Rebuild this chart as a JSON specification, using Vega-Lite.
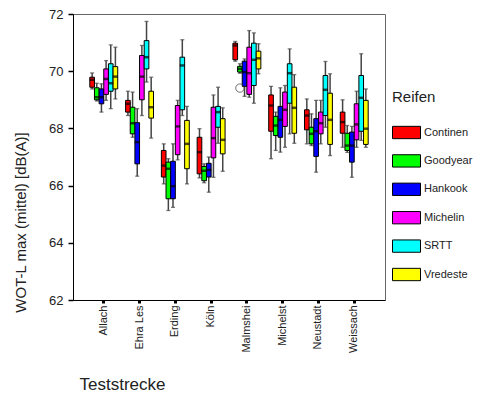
{
  "$schema": "https://vega.github.io/schema/vega-lite/v6.json",
  "width": 312,
  "height": 286,
  "autosize": {"type": "none"},
  "padding": {"left": 73, "top": 14, "right": 106, "bottom": 94},
  "background": "white",
  "config": {
    "font": "Liberation Sans",
    "view": {"stroke": "#666", "strokeWidth": 1},
    "axis": {"grid": false, "domainColor": "black", "tickColor": "black", "labelColor": "#222", "titleColor": "#222", "titleFontWeight": "normal"}
  },
  "datasets": {
    "boxes": [
      {"track": "Allach", "tire": "Contin", "lo": 69.38, "q1": 69.44, "med": 69.70, "q3": 69.79, "hi": 69.94},
      {"track": "Allach", "tire": "Goodyear", "lo": 68.96, "q1": 69.0, "med": 69.09, "q3": 69.42, "hi": 69.58},
      {"track": "Allach", "tire": "Hankook", "lo": 68.57, "q1": 68.86, "med": 69.09, "q3": 69.38, "hi": 69.56},
      {"track": "Allach", "tire": "Michelin", "lo": 68.98, "q1": 69.19, "med": 69.73, "q3": 70.08, "hi": 70.37},
      {"track": "Allach", "tire": "SRTT", "lo": 68.69, "q1": 69.30, "med": 69.58, "q3": 70.26, "hi": 70.92},
      {"track": "Allach", "tire": "Vredeste", "lo": 69.03, "q1": 69.38, "med": 69.81, "q3": 70.16, "hi": 70.84},
      {"track": "Ehra Les", "tire": "Contin", "lo": 68.45, "q1": 68.57, "med": 68.86, "q3": 68.98, "hi": 69.30},
      {"track": "Ehra Les", "tire": "Goodyear", "lo": 67.69, "q1": 67.81, "med": 68.18, "q3": 68.74, "hi": 69.27},
      {"track": "Ehra Les", "tire": "Hankook", "lo": 66.33, "q1": 66.76, "med": 67.52, "q3": 68.20, "hi": 68.69},
      {"track": "Ehra Les", "tire": "Michelin", "lo": 68.45, "q1": 69.0, "med": 69.81, "q3": 70.55, "hi": 70.90},
      {"track": "Ehra Les", "tire": "SRTT", "lo": 69.62, "q1": 70.08, "med": 70.49, "q3": 71.07, "hi": 71.74},
      {"track": "Ehra Les", "tire": "Vredeste", "lo": 67.66, "q1": 68.36, "med": 68.74, "q3": 69.30, "hi": 69.79},
      {"track": "Erding", "tire": "Contin", "lo": 66.06, "q1": 66.30, "med": 66.70, "q3": 67.23, "hi": 67.46},
      {"track": "Erding", "tire": "Goodyear", "lo": 65.13, "q1": 65.54, "med": 66.59, "q3": 66.82, "hi": 66.94},
      {"track": "Erding", "tire": "Hankook", "lo": 65.24, "q1": 65.54, "med": 65.98, "q3": 66.85, "hi": 67.46},
      {"track": "Erding", "tire": "Michelin", "lo": 66.90, "q1": 67.08, "med": 68.07, "q3": 68.80, "hi": 68.98},
      {"track": "Erding", "tire": "SRTT", "lo": 68.45, "q1": 68.65, "med": 70.20, "q3": 70.49, "hi": 71.10},
      {"track": "Erding", "tire": "Vredeste", "lo": 66.06, "q1": 66.59, "med": 67.46, "q3": 68.28, "hi": 68.77},
      {"track": "Köln", "tire": "Contin", "lo": 66.27, "q1": 66.41, "med": 67.17, "q3": 67.69, "hi": 67.99},
      {"track": "Köln", "tire": "Goodyear", "lo": 66.10, "q1": 66.17, "med": 66.52, "q3": 66.67, "hi": 66.76},
      {"track": "Köln", "tire": "Hankook", "lo": 65.77, "q1": 66.30, "med": 66.55, "q3": 66.78, "hi": 67.0},
      {"track": "Köln", "tire": "Michelin", "lo": 66.29, "q1": 66.97, "med": 67.66, "q3": 68.74, "hi": 69.17},
      {"track": "Köln", "tire": "SRTT", "lo": 67.48, "q1": 68.04, "med": 68.57, "q3": 68.77, "hi": 69.44},
      {"track": "Köln", "tire": "Vredeste", "lo": 66.50, "q1": 67.11, "med": 67.60, "q3": 68.34, "hi": 68.72},
      {"track": "Malmshei", "tire": "Contin", "lo": 70.35, "q1": 70.40, "med": 70.90, "q3": 70.98, "hi": 71.04},
      {"track": "Malmshei", "tire": "Goodyear", "lo": 69.93, "q1": 69.97, "med": 70.08, "q3": 70.17, "hi": 70.26},
      {"track": "Malmshei", "tire": "Hankook", "lo": 69.12, "q1": 69.47, "med": 69.97, "q3": 70.35, "hi": 70.43},
      {"track": "Malmshei", "tire": "Michelin", "lo": 69.09, "q1": 69.19, "med": 69.93, "q3": 70.84, "hi": 71.42},
      {"track": "Malmshei", "tire": "SRTT", "lo": 68.88, "q1": 69.50, "med": 70.40, "q3": 70.98, "hi": 71.34},
      {"track": "Malmshei", "tire": "Vredeste", "lo": 69.91, "q1": 70.08, "med": 70.45, "q3": 70.70, "hi": 70.96},
      {"track": "Michelst", "tire": "Contin", "lo": 66.94, "q1": 67.90, "med": 68.80, "q3": 69.17, "hi": 69.47},
      {"track": "Michelst", "tire": "Goodyear", "lo": 67.23, "q1": 67.75, "med": 68.10, "q3": 68.42, "hi": 68.57},
      {"track": "Michelst", "tire": "Hankook", "lo": 67.17, "q1": 67.69, "med": 68.30, "q3": 68.77, "hi": 69.42},
      {"track": "Michelst", "tire": "Michelin", "lo": 67.34, "q1": 68.07, "med": 68.65, "q3": 69.27, "hi": 69.50},
      {"track": "Michelst", "tire": "SRTT", "lo": 67.81, "q1": 68.88, "med": 69.93, "q3": 70.26, "hi": 70.78},
      {"track": "Michelst", "tire": "Vredeste", "lo": 67.48, "q1": 67.83, "med": 68.72, "q3": 69.44, "hi": 69.88},
      {"track": "Neustadt", "tire": "Contin", "lo": 67.46, "q1": 67.95, "med": 68.45, "q3": 68.65, "hi": 69.03},
      {"track": "Neustadt", "tire": "Goodyear", "lo": 67.40, "q1": 67.46, "med": 67.81, "q3": 68.04, "hi": 68.51},
      {"track": "Neustadt", "tire": "Hankook", "lo": 66.47, "q1": 67.02, "med": 67.90, "q3": 68.34, "hi": 68.98},
      {"track": "Neustadt", "tire": "Michelin", "lo": 67.46, "q1": 67.81, "med": 68.18, "q3": 68.57, "hi": 68.98},
      {"track": "Neustadt", "tire": "SRTT", "lo": 68.04, "q1": 68.45, "med": 69.35, "q3": 69.85, "hi": 70.34},
      {"track": "Neustadt", "tire": "Vredeste", "lo": 67.05, "q1": 67.44, "med": 68.30, "q3": 69.23, "hi": 69.91},
      {"track": "Weissach", "tire": "Contin", "lo": 67.34, "q1": 67.83, "med": 68.22, "q3": 68.57, "hi": 69.0},
      {"track": "Weissach", "tire": "Goodyear", "lo": 67.16, "q1": 67.23, "med": 67.40, "q3": 67.83, "hi": 68.10},
      {"track": "Weissach", "tire": "Hankook", "lo": 66.29, "q1": 66.82, "med": 67.40, "q3": 67.87, "hi": 68.07},
      {"track": "Weissach", "tire": "Michelin", "lo": 67.34, "q1": 67.60, "med": 68.14, "q3": 68.86, "hi": 69.30},
      {"track": "Weissach", "tire": "SRTT", "lo": 67.58, "q1": 67.90, "med": 69.07, "q3": 69.85, "hi": 70.61},
      {"track": "Weissach", "tire": "Vredeste", "lo": 67.34, "q1": 67.44, "med": 67.99, "q3": 68.98, "hi": 69.38}
    ],
    "outliers": [
      {"track": "Malmshei", "tire": "Goodyear", "value": 69.41}
    ]
  },
  "data": {"name": "boxes"},
  "encoding": {
    "x": {
      "field": "track", "type": "nominal",
      "sort": ["Allach", "Ehra Les", "Erding", "Köln", "Malmshei", "Michelst", "Neustadt", "Weissach"],
      "scale": {"paddingInner": 0.22, "paddingOuter": 0.47},
      "axis": {
        "title": "Teststrecke", "titleFontSize": 17, "titleX": 49, "titleY": 84,
        "titleAlign": "center", "titleBaseline": "middle",
        "labelAngle": -90, "labelFontSize": 11, "labelPadding": 2,
        "labelAlign": "right", "labelBaseline": "middle",
        "tickSize": 3, "tickWidth": 3, "domainWidth": 1
      }
    },
    "xOffset": {
      "field": "tire", "type": "nominal",
      "sort": ["Contin", "Goodyear", "Hankook", "Michelin", "SRTT", "Vredeste"],
      "scale": {"paddingInner": 0, "paddingOuter": 0}
    }
  },
  "layer": [
    {
      "mark": {"type": "rule", "color": "#444", "strokeWidth": 1.5, "xOffset": -1},
      "encoding": {
        "y": {
          "field": "lo", "type": "quantitative",
          "scale": {"domain": [62, 72], "nice": false, "zero": false},
          "axis": {
            "title": "WOT-L max (mittel) [dB(A)]", "titleFontSize": 15,
            "titleAngle": -90, "titleX": -53, "titleY": 208,
            "titleAlign": "center", "titleBaseline": "middle",
            "values": [62, 64, 66, 68, 70, 72], "labelFontSize": 13,
            "labelPadding": 5, "tickSize": 5, "tickWidth": 1.5
          }
        },
        "y2": {"field": "hi"}
      }
    },
    {
      "mark": {"type": "tick", "color": "#444", "size": 4, "thickness": 1.3},
      "encoding": {"y": {"field": "lo", "type": "quantitative"}}
    },
    {
      "mark": {"type": "tick", "color": "#444", "size": 4, "thickness": 1.3},
      "encoding": {"y": {"field": "hi", "type": "quantitative"}}
    },
    {
      "mark": {"type": "bar", "stroke": "black", "strokeWidth": 1, "opacity": 1},
      "encoding": {
        "y": {"field": "q1", "type": "quantitative"},
        "y2": {"field": "q3"},
        "color": {
          "field": "tire", "type": "nominal",
          "sort": ["Contin", "Goodyear", "Hankook", "Michelin", "SRTT", "Vredeste"],
          "scale": {
            "domain": ["Contin", "Goodyear", "Hankook", "Michelin", "SRTT", "Vredeste"],
            "range": ["#ff0000", "#00ff00", "#0000ff", "#ff00ff", "#00ffff", "#ffff00"]
          },
          "legend": {
            "title": "Reifen", "orient": "none", "legendX": 319, "legendY": 76,
            "titleFontSize": 15, "titleFontWeight": "normal", "titleColor": "#222",
            "titlePadding": 13,
            "labelExpr": "datum.label == 'Contin' ? 'Continen' : datum.label",
            "labelFontSize": 11, "labelColor": "#222", "labelOffset": 3,
            "symbolType": "M-1,-0.44H1V0.44H-1Z", "symbolSize": 784,
            "symbolStrokeColor": "black", "symbolStrokeWidth": 1, "symbolOpacity": 1,
            "rowPadding": 5.4
          }
        }
      }
    },
    {
      "mark": {"type": "tick", "color": "black", "size": 5, "thickness": 2.5},
      "encoding": {"y": {"field": "med", "type": "quantitative"}}
    },
    {
      "data": {"name": "outliers"},
      "mark": {"type": "point", "shape": "circle", "filled": false, "color": "#333", "size": 70, "strokeWidth": 1},
      "encoding": {"y": {"field": "value", "type": "quantitative"}}
    }
  ]
}
